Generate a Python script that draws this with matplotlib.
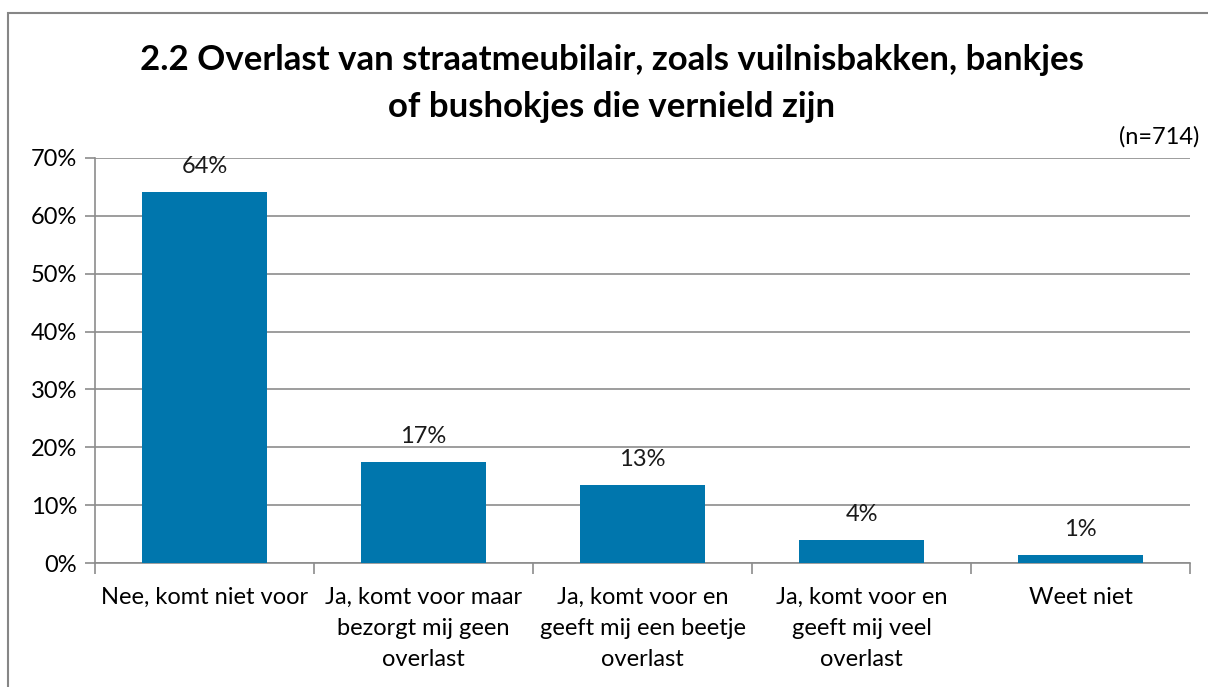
import matplotlib
matplotlib.use("Agg")
import matplotlib.pyplot as plt
from matplotlib.patches import Rectangle

categories = ["Nee, komt niet voor",
              "Ja, komt voor maar\nbezorgt mij geen\noverlast",
              "Ja, komt voor en\ngeeft mij een beetje\noverlast",
              "Ja, komt voor en\ngeeft mij veel\noverlast",
              "Weet niet"]
values = [64.1, 17.4, 13.4, 3.9, 1.3]
labels = ["64%", "17%", "13%", "4%", "1%"]
yticks = [0, 10, 20, 30, 40, 50, 60, 70]
ytick_labels = ["0%", "10%", "20%", "30%", "40%", "50%", "60%", "70%"]

plt.rcParams['font.family'] = ['Lato', 'DejaVu Sans']

W, H = 1208, 687
fig = plt.figure(figsize=(W / 100, H / 100), dpi=100)

# outer frame
fig.patches.append(Rectangle((8 / W, -0.1), 1.2, (H - 13) / H + 0.1, transform=fig.transFigure,
                             fill=False, edgecolor="#868686", linewidth=1.5))

ax = fig.add_axes([95 / W, (H - 563) / H, (1190 - 95) / W, (563 - 158) / H])
x = list(range(len(categories)))
ax.bar(x, values, width=0.57, color="#0076AD", zorder=3)
for xi, v, lab in zip(x, values, labels):
    ax.text(xi, v + 2.6, lab, ha="center", va="bottom", fontsize=17, color="#1a1a1a")

ax.set_xlim(-0.5, len(categories) - 0.5)
ax.set_ylim(0, 70)
ax.set_yticks(yticks)
ax.set_yticklabels(ytick_labels, fontsize=17)
ax.yaxis.grid(True, color="#8c8c8c", linewidth=1.2, zorder=0)
ax.set_xticks(x)
ax.set_xticklabels(categories, fontsize=17, linespacing=1.6, va="top")
ax.tick_params(axis="x", length=0, pad=17)
ax.tick_params(axis="y", length=7, width=1.2, color="#8c8c8c", pad=6)
# minor ticks between categories
ax.set_xticks([i + 0.5 for i in range(-1, len(categories))], minor=True)
ax.tick_params(axis="x", which="minor", length=8, width=1.2, color="#8c8c8c", direction="out")
for s in ["top", "right"]:
    ax.spines[s].set_visible(False)
for s in ["left", "bottom"]:
    ax.spines[s].set_color("#8c8c8c")
    ax.spines[s].set_linewidth(1.2)

fig.text(612 / W, 1 - 60 / H, "2.2 Overlast van straatmeubilair, zoals vuilnisbakken, bankjes",
         ha="center", va="center", fontsize=25, fontweight="bold")
fig.text(612 / W, 1 - 107 / H, "of bushokjes die vernield zijn",
         ha="center", va="center", fontsize=25, fontweight="bold")
fig.text(1199 / W, 1 - 137 / H, "(n=714)", ha="right", va="center", fontsize=17)

fig.savefig("out.png", dpi=100)
